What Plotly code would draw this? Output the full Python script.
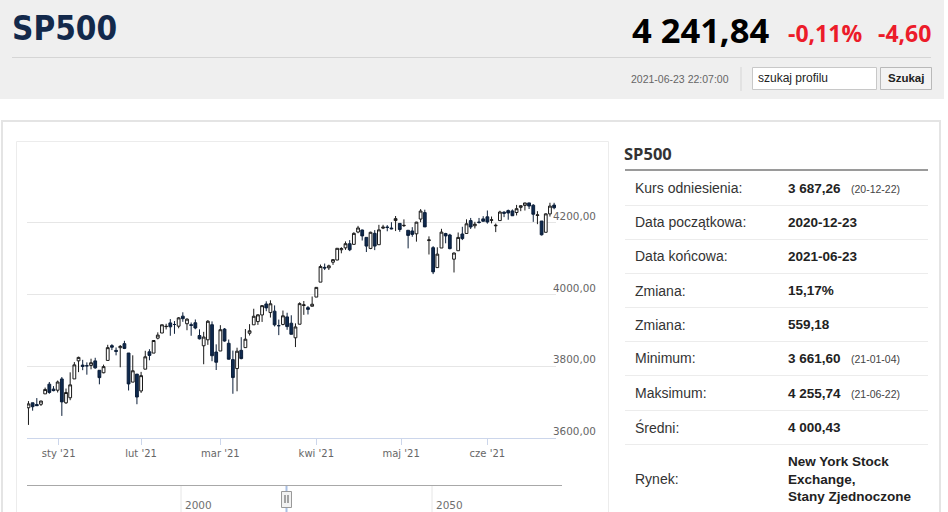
import plotly.graph_objects as go
import pandas as pd

# ---------------- data ----------------
dates = [
    "2020-12-21", "2020-12-22", "2020-12-23", "2020-12-24", "2020-12-28", "2020-12-29", "2020-12-30", "2020-12-31",
    "2021-01-04", "2021-01-05", "2021-01-06", "2021-01-07", "2021-01-08", "2021-01-11", "2021-01-12", "2021-01-13",
    "2021-01-14", "2021-01-15", "2021-01-19", "2021-01-20", "2021-01-21", "2021-01-22", "2021-01-25", "2021-01-26",
    "2021-01-27", "2021-01-28", "2021-01-29",
    "2021-02-01", "2021-02-02", "2021-02-03", "2021-02-04", "2021-02-05", "2021-02-08", "2021-02-09", "2021-02-10",
    "2021-02-11", "2021-02-12", "2021-02-16", "2021-02-17", "2021-02-18", "2021-02-19", "2021-02-22", "2021-02-23",
    "2021-02-24", "2021-02-25", "2021-02-26",
    "2021-03-01", "2021-03-02", "2021-03-03", "2021-03-04", "2021-03-05", "2021-03-08", "2021-03-09", "2021-03-10",
    "2021-03-11", "2021-03-12", "2021-03-15", "2021-03-16", "2021-03-17", "2021-03-18", "2021-03-19", "2021-03-22",
    "2021-03-23", "2021-03-24", "2021-03-25", "2021-03-26", "2021-03-29", "2021-03-30", "2021-03-31",
    "2021-04-01", "2021-04-05", "2021-04-06", "2021-04-07", "2021-04-08", "2021-04-09", "2021-04-12", "2021-04-13",
    "2021-04-14", "2021-04-15", "2021-04-16", "2021-04-19", "2021-04-20", "2021-04-21", "2021-04-22", "2021-04-23",
    "2021-04-26", "2021-04-27", "2021-04-28", "2021-04-29", "2021-04-30",
    "2021-05-03", "2021-05-04", "2021-05-05", "2021-05-06", "2021-05-07", "2021-05-10", "2021-05-11", "2021-05-12",
    "2021-05-13", "2021-05-14", "2021-05-17", "2021-05-18", "2021-05-19", "2021-05-20", "2021-05-21", "2021-05-24",
    "2021-05-25", "2021-05-26", "2021-05-27", "2021-05-28",
    "2021-06-01", "2021-06-02", "2021-06-03", "2021-06-04", "2021-06-07", "2021-06-08", "2021-06-09", "2021-06-10",
    "2021-06-11", "2021-06-14", "2021-06-15", "2021-06-16", "2021-06-17", "2021-06-18", "2021-06-21", "2021-06-22",
    "2021-06-23",
]

opens = [
    3684.28, 3698.08, 3693.42, 3694.03, 3723.03, 3750.01, 3736.19, 3733.27,
    3764.61, 3698.02, 3712.20, 3764.71, 3815.05, 3803.14, 3801.62, 3802.23,
    3814.98, 3788.73, 3781.88, 3816.22, 3857.46, 3844.24, 3851.68, 3862.96,
    3836.83, 3755.75, 3778.05,
    3731.17, 3791.84, 3840.27, 3836.66, 3878.30, 3892.59, 3910.49, 3920.78,
    3916.40, 3911.65, 3939.61, 3918.50, 3915.86, 3921.16, 3885.55, 3857.07,
    3873.71, 3915.80, 3839.66,
    3842.51, 3903.64, 3863.99, 3818.53, 3793.58, 3844.39, 3851.93, 3891.99,
    3915.54, 3924.52, 3942.96, 3973.59, 3949.57, 3953.50, 3913.14, 3916.48,
    3937.60, 3919.93, 3879.34, 3917.12, 3969.31, 3963.34, 3967.25,
    3992.78, 4034.44, 4075.57, 4074.29, 4089.95, 4096.11, 4124.71, 4130.10,
    4141.58, 4139.76, 4174.14, 4179.80, 4159.18, 4128.42, 4170.46, 4138.78,
    4185.03, 4188.25, 4185.14, 4206.14, 4198.10,
    4191.98, 4179.04, 4177.06, 4169.14, 4210.34, 4228.29, 4150.34, 4130.55,
    4074.99, 4129.58, 4169.92, 4165.94, 4098.45, 4121.97, 4168.61, 4170.16,
    4205.94, 4191.59, 4201.94, 4210.77,
    4216.52, 4206.82, 4191.43, 4206.05, 4229.34, 4233.81, 4232.99, 4228.56,
    4242.90, 4248.31, 4255.28, 4248.87, 4220.37, 4204.78, 4173.40, 4224.61,
    4249.27,
]

highs = [
    3702.90, 3698.26, 3711.24, 3703.82, 3740.51, 3756.12, 3744.63, 3760.20,
    3769.99, 3737.83, 3783.04, 3811.55, 3826.69, 3817.86, 3810.78, 3820.96,
    3823.60, 3788.73, 3804.53, 3859.75, 3861.45, 3852.31, 3859.23, 3870.90,
    3836.83, 3830.50, 3778.05,
    3784.32, 3843.09, 3847.51, 3872.42, 3894.56, 3915.77, 3918.35, 3931.50,
    3925.99, 3937.23, 3950.43, 3933.61, 3921.98, 3930.41, 3902.92, 3895.98,
    3928.65, 3925.02, 3861.08,
    3914.50, 3906.41, 3874.47, 3843.67, 3851.69, 3881.06, 3903.76, 3917.35,
    3960.27, 3944.99, 3970.08, 3981.04, 3983.87, 3969.62, 3930.12, 3955.31,
    3949.13, 3942.08, 3919.54, 3978.19, 3981.83, 3968.01, 3994.41,
    4020.63, 4083.42, 4086.23, 4083.13, 4098.19, 4129.48, 4131.76, 4148.00,
    4151.69, 4173.49, 4191.31, 4180.81, 4159.18, 4175.02, 4179.57, 4194.17,
    4194.19, 4193.35, 4201.53, 4218.78, 4198.10,
    4209.39, 4179.04, 4187.72, 4202.70, 4238.04, 4236.39, 4162.04, 4134.73,
    4131.58, 4183.13, 4171.92, 4169.15, 4116.93, 4172.80, 4188.72, 4209.52,
    4213.42, 4202.61, 4213.38, 4218.36,
    4234.12, 4217.37, 4197.82, 4233.45, 4232.34, 4236.74, 4237.09, 4249.74,
    4248.38, 4255.50, 4255.60, 4251.89, 4232.29, 4204.78, 4226.24, 4255.74,
    4255.60,
]

lows = [
    3636.48, 3676.16, 3689.28, 3689.32, 3723.03, 3723.31, 3730.21, 3726.88,
    3661.60, 3695.07, 3705.34, 3764.71, 3783.60, 3789.02, 3776.51, 3791.50,
    3792.86, 3749.62, 3780.37, 3816.22, 3845.05, 3830.41, 3797.16, 3847.78,
    3732.48, 3755.75, 3694.12,
    3725.62, 3791.84, 3816.68, 3836.66, 3874.93, 3892.59, 3902.64, 3884.94,
    3890.39, 3905.78, 3923.85, 3900.43, 3885.03, 3903.07, 3874.71, 3805.59,
    3859.60, 3814.04, 3789.54,
    3842.51, 3868.57, 3818.86, 3723.34, 3730.19, 3819.25, 3851.93, 3885.73,
    3915.54, 3915.21, 3923.54, 3953.44, 3935.74, 3910.86, 3886.75, 3914.16,
    3901.57, 3888.85, 3853.50, 3917.12, 3943.25, 3944.35, 3966.98,
    3992.78, 4034.44, 4068.14, 4068.31, 4082.54, 4095.51, 4114.82, 4124.43,
    4120.87, 4139.76, 4170.75, 4150.47, 4118.38, 4126.35, 4123.69, 4138.78,
    4182.36, 4176.22, 4181.78, 4176.81, 4174.85,
    4188.03, 4128.59, 4160.94, 4147.33, 4201.64, 4188.13, 4111.53, 4056.88,
    4074.99, 4129.58, 4142.69, 4125.99, 4061.41, 4121.97, 4151.72, 4170.16,
    4182.52, 4184.11, 4197.78, 4203.57,
    4197.59, 4198.27, 4173.94, 4206.05, 4215.66, 4208.41, 4218.74, 4220.34,
    4232.25, 4234.07, 4238.35, 4202.45, 4196.05, 4164.40, 4173.40, 4217.27,
    4237.56,
]

closes = [
    3694.92, 3687.26, 3690.01, 3703.06, 3735.36, 3727.04, 3732.04, 3756.07,
    3700.65, 3726.86, 3748.14, 3803.79, 3824.68, 3799.61, 3801.19, 3809.84,
    3795.54, 3768.25, 3798.91, 3851.85, 3853.07, 3841.47, 3855.36, 3849.62,
    3750.77, 3787.38, 3714.24,
    3773.86, 3826.31, 3830.17, 3871.74, 3886.83, 3915.59, 3911.23, 3909.88,
    3916.38, 3934.83, 3932.59, 3931.33, 3913.97, 3906.71, 3876.50, 3881.37,
    3925.43, 3829.34, 3811.15,
    3901.82, 3870.29, 3819.72, 3768.47, 3841.94, 3821.35, 3875.44, 3898.81,
    3939.34, 3943.34, 3968.94, 3962.71, 3974.12, 3915.46, 3913.10, 3940.59,
    3910.52, 3889.14, 3909.52, 3974.54, 3971.09, 3958.55, 3972.89,
    4019.87, 4077.91, 4073.94, 4079.95, 4097.17, 4128.80, 4127.99, 4141.59,
    4124.66, 4170.42, 4185.47, 4163.26, 4134.94, 4173.42, 4134.98, 4180.17,
    4187.62, 4186.72, 4183.18, 4211.47, 4181.17,
    4192.66, 4164.66, 4167.59, 4201.62, 4232.60, 4188.43, 4152.10, 4063.04,
    4112.50, 4173.85, 4163.29, 4127.83, 4115.68, 4159.12, 4155.86, 4197.05,
    4188.13, 4195.99, 4200.88, 4204.11,
    4202.04, 4208.12, 4192.85, 4229.89, 4226.52, 4227.26, 4219.55, 4239.18,
    4247.44, 4255.15, 4246.59, 4223.70, 4221.86, 4166.45, 4224.79, 4246.44,
    4241.84,
]

month_starts = ["2021-01-01", "2021-02-01", "2021-03-01", "2021-04-01", "2021-05-01", "2021-06-01"]
month_labels = ["sty '21", "lut '21", "mar '21", "kwi '21", "maj '21", "cze '21"]

y_grid_vals = [3600, 3800, 4000, 4200, 4400]
y_label_vals = [3600, 3800, 4000, 4200]
y_label_text = ["3600,00", "3800,00", "4000,00", "4200,00"]

nav_label_text = ["2000", "2050"]

header_name = "SP500"
header_price = "4 241,84"
header_change_pct = "-0,11%"
header_change_abs = "-4,60"
header_time = "2021-06-23 22:07:00"
search_placeholder = "szukaj profilu"
search_button = "Szukaj"

table_title = "SP500"
table_labels = ["Kurs odniesienia:", "Data początkowa:", "Data końcowa:", "Zmiana:", "Zmiana:",
                "Minimum:", "Maksimum:", "Średni:", "Rynek:"]
table_values = ["3 687,26", "2020-12-23", "2021-06-23", "15,17%", "559,18",
                "3 661,60", "4 255,74", "4 000,43", "New York Stock<br>Exchange,<br>Stany Zjednoczone"]
table_notes = ["(20-12-22)", "", "", "", "", "(21-01-04)", "(21-06-22)", "", ""]

# ---------------- derived ----------------
idx = list(range(len(dates)))
ts = pd.to_datetime(dates)
tick_pos = []
for m in pd.to_datetime(month_starts):
    for i in range(1, len(ts)):
        if ts[i - 1] < m <= ts[i]:
            tick_pos.append(i - 1 + (m - ts[i - 1]) / (ts[i] - ts[i - 1]))
            break

# ---------------- geometry (pixels) ----------------
FW, FH = 948, 512
L, R, T, B = 27, 556, 151, 438
PW, PH = R - L, B - T


def X(px):
    return (px - L) / PW


def Y(py):
    return (B - py) / PH


fig = go.Figure()
fig.add_trace(go.Candlestick(
    x=idx, open=opens, high=highs, low=lows, close=closes,
    text=dates, hoverinfo="text+y",
    increasing=dict(fillcolor="#ffffff", line=dict(color="#1a1a1a", width=1)),
    decreasing=dict(fillcolor="#0f2a4f", line=dict(color="#0c1f3a", width=1)),
    whiskerwidth=0,
    showlegend=False,
))

shapes = []


def rect(x0, y0, x1, y1, fill=None, line=None, lw=1, layer="below"):
    shapes.append(dict(type="rect", xref="paper", yref="paper",
                       x0=X(x0), x1=X(x1), y0=Y(y0), y1=Y(y1),
                       fillcolor=fill if fill else "rgba(0,0,0,0)",
                       line=dict(color=line if line else "rgba(0,0,0,0)", width=lw if line else 0),
                       layer=layer))


def hline(x0, x1, y, color, lw=1, layer="below"):
    shapes.append(dict(type="line", xref="paper", yref="paper",
                       x0=X(x0), x1=X(x1), y0=Y(y), y1=Y(y),
                       line=dict(color=color, width=lw), layer=layer))


def vline(x, y0, y1, color, lw=1, layer="below"):
    shapes.append(dict(type="line", xref="paper", yref="paper",
                       x0=X(x), x1=X(x), y0=Y(y0), y1=Y(y1),
                       line=dict(color=color, width=lw), layer=layer))


# header band
rect(0, 0, 944, 99, fill="#efefef")
hline(12, 931, 57.5, "#d5d5d5")
vline(741, 67, 91, "#d5d5d5")
rect(752.5, 67.5, 876.5, 89.5, fill="#ffffff", line="#c8c8c8")
rect(880.5, 67.5, 931.5, 89.5, fill="#f3f3f3", line="#b9b9b9")

# outer panel + chart box
rect(2, 121, 940, 520, fill="#ffffff", line="#e4e4e4", lw=2)
rect(16.5, 141.5, 608.5, 520, fill="#ffffff", line="#ececec", lw=1)

# table lines
hline(625, 928, 170, "#9a9a9a", lw=2)
for sy in [205.5, 239.5, 273.5, 307.5, 341.5, 375.5, 410.5, 444.5]:
    hline(625, 928, sy, "#ececec", lw=1)

# navigator
vline(181, 486, 515, "#e6e6e6")
vline(432, 486, 515, "#e6e6e6")
hline(27, 562, 485.5, "#a8a8a8")
vline(286.5, 486, 515, "#a9bfe3", lw=2)
rect(281.5, 491.5, 291.5, 507.5, fill="#f2f2f2", line="#999999", layer="above")
vline(285, 495, 503, "#555555", layer="above")
vline(288, 495, 503, "#555555", layer="above")

annotations = []


def text(px, py, s, size, color, family="Liberation Sans", bold=False, anchor="left", yanchor="middle"):
    if bold:
        s = "<b>" + s + "</b>"
    annotations.append(dict(xref="paper", yref="paper", x=X(px), y=Y(py), text=s,
                            showarrow=False, xanchor=anchor, yanchor=yanchor, align=anchor,
                            font=dict(size=size, color=color, family=family)))


# header texts
text(10, 29, header_name, 33, "#13294b", family="DejaVu Sans Condensed, Liberation Sans", bold=True)
text(630, 30, header_price, 34.5, "#000000", family="Open Sans", bold=True)
text(786, 33, header_change_pct, 23, "#ec1c2a", family="Open Sans", bold=True)
text(876, 33, header_change_abs, 23, "#ec1c2a", family="Open Sans", bold=True)
text(731, 79, header_time, 10.5, "#666666", anchor="right")
text(756, 78.5, search_placeholder, 12, "#222222")
text(906, 78.5, search_button, 11.5, "#222222", bold=True, anchor="center")

# table texts
text(622, 153, table_title, 16.5, "#333333", family="Open Sans", bold=True)
row_centers = [188, 222, 256, 290.5, 324.5, 358, 393, 427, 479]
for lab, val, note, cy in zip(table_labels, table_values, table_notes, row_centers):
    text(633, cy, lab, 14, "#333333")
    text(786, cy, val, 13.5, "#222222", bold=True)
    if note:
        text(849, cy + 1, note, 10.5, "#444444")

# y-axis labels (Highcharts style, just above gridlines)
for v, t in zip(y_label_vals, y_label_text):
    annotations.append(dict(xref="paper", yref="y", x=X(551), y=v, yshift=7, text=t,
                            showarrow=False, xanchor="left", yanchor="middle",
                            font=dict(size=10.4, color="#666666", family="DejaVu Sans")))

# navigator labels
for px, t in zip([183, 434], nav_label_text):
    text(px, 505, t, 10.5, "#6f6f6f", family="DejaVu Sans")

fig.update_layout(
    width=FW, height=FH,
    margin=dict(l=L, r=FW - R, t=T, b=FH - B, pad=0),
    paper_bgcolor="#ffffff", plot_bgcolor="rgba(0,0,0,0)",
    shapes=shapes, annotations=annotations,
    showlegend=False,
    boxgap=0.05,
    xaxis=dict(
        range=[-0.35, len(dates) - 0.55],
        rangeslider=dict(visible=False),
        showgrid=False, zeroline=False,
        showline=True, linecolor="#ccd6eb", linewidth=1,
        ticks="outside", ticklen=6, tickcolor="#ccd6eb", tickwidth=1,
        tickvals=tick_pos, ticktext=month_labels,
        tickfont=dict(family="DejaVu Sans", size=10, color="#666666"),
        fixedrange=True,
    ),
    yaxis=dict(
        range=[3600, 4400], side="right",
        tickvals=y_grid_vals, showticklabels=False,
        showgrid=True, gridcolor="#e6e6e6", gridwidth=1,
        zeroline=False, showline=False, ticks="",
        fixedrange=True,
    ),
)

fig.write_html("out.html", config={"displayModeBar": False},
               post_script="document.body.style.margin='0';document.body.style.overflow='hidden';")
